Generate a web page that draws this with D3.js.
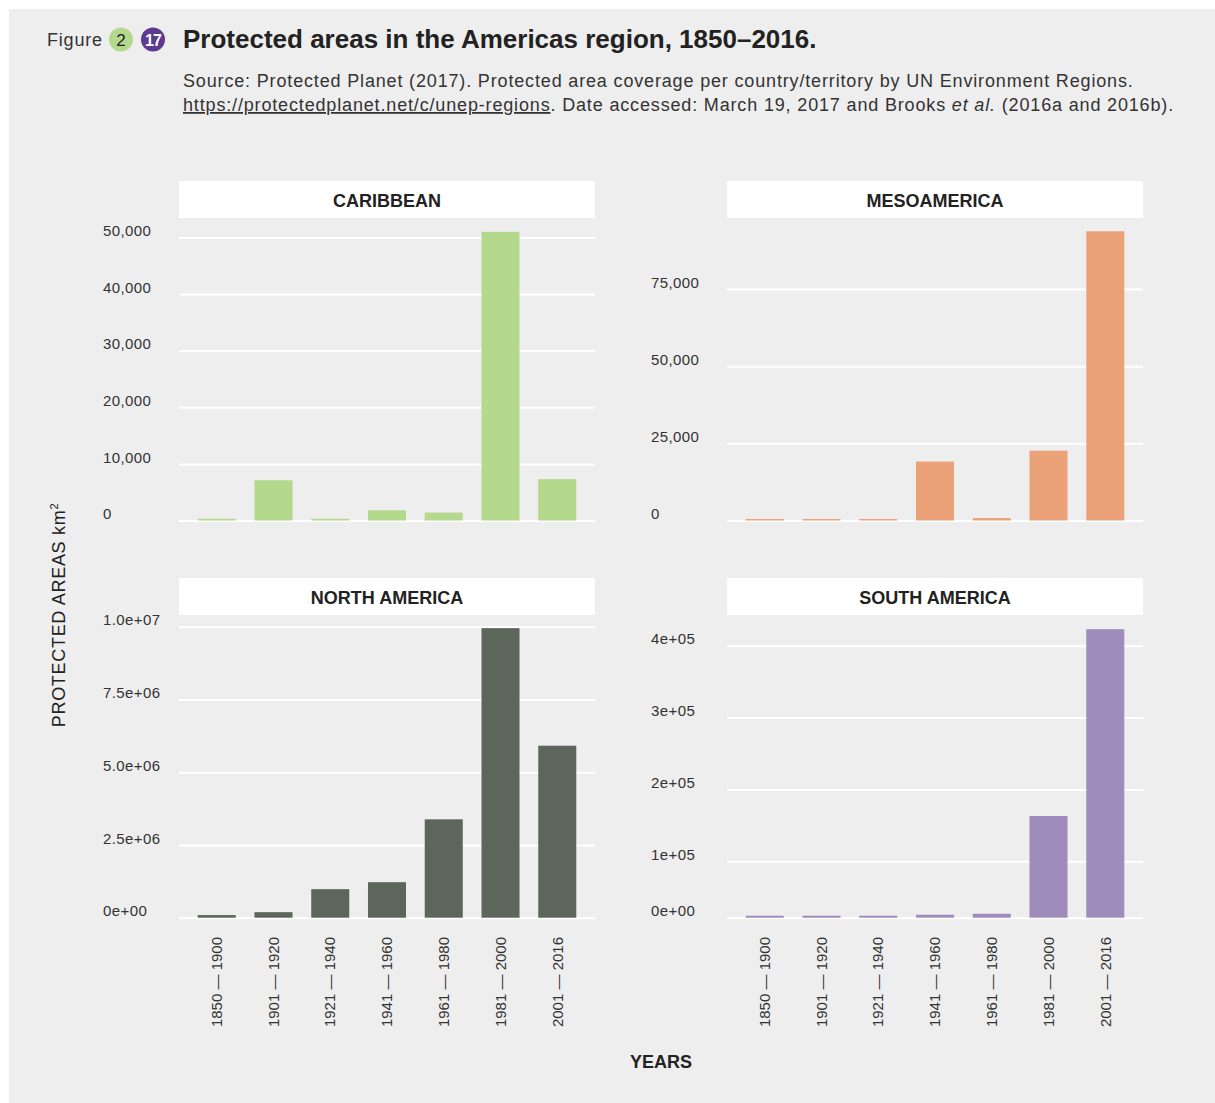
<!DOCTYPE html>
<html>
<head>
<meta charset="utf-8">
<script src="https://cdn.jsdelivr.net/npm/d3@7"></script>
<style>
  html, body { margin: 0; padding: 0; background: #ffffff; }
  svg { display: block; font-family: "Liberation Sans", Arial, Helvetica, sans-serif; }
</style>
</head>
<body>
<svg id="chart" width="1215" height="1103"></svg>
<script>
// ---------- data ----------
const periods = ["1850 — 1900", "1901 — 1920", "1921 — 1940", "1941 — 1960", "1961 — 1980", "1981 — 2000", "2001 — 2016"];

const caribbean    = [300, 7100, 300, 1800, 1400, 51000, 7300];
const mesoamerica  = [500, 500, 500, 19100, 800, 22600, 93700];
const northAmerica = [90000, 190000, 980000, 1220000, 3380000, 9950000, 5910000];
const southAmerica = [3500, 3500, 3500, 5300, 7000, 163000, 423000];

const caribbeanTicks = [0, 10000, 20000, 30000, 40000, 50000];
const caribbeanTickLabels = ["0", "10,000", "20,000", "30,000", "40,000", "50,000"];
const mesoTicks = [0, 25000, 50000, 75000];
const mesoTickLabels = ["0", "25,000", "50,000", "75,000"];
const naTicks = [0, 2500000, 5000000, 7500000, 10000000];
const naTickLabels = ["0e+00", "2.5e+06", "5.0e+06", "7.5e+06", "1.0e+07"];
const saTicks = [0, 100000, 200000, 300000, 400000];
const saTickLabels = ["0e+00", "1e+05", "2e+05", "3e+05", "4e+05"];

const panelNames = ["CARIBBEAN", "MESOAMERICA", "NORTH AMERICA", "SOUTH AMERICA"];
const panelColors = ["#b4d88c", "#eca278", "#5c665a", "#a08cbc"];

// ---------- layout ----------
const svg = d3.select("#chart");
const BG = "#eeeeee";
const TXT = "#333333";

svg.append("rect").attr("x", 9).attr("y", 9).attr("width", 1206).attr("height", 1094).attr("fill", BG);

// Header
svg.append("text").attr("x", 47).attr("y", 46).attr("font-size", 18).attr("letter-spacing", 0.8).attr("fill", TXT).text("Figure");
svg.append("circle").attr("cx", 121).attr("cy", 39.5).attr("r", 12).attr("fill", "#b4d88c");
svg.append("text").attr("x", 121).attr("y", 46).attr("font-size", 17).attr("fill", "#222").attr("text-anchor", "middle").text("2");
svg.append("circle").attr("cx", 153).attr("cy", 39.5).attr("r", 12).attr("fill", "#5b3a90");
svg.append("text").attr("x", 153).attr("y", 45.5).attr("font-size", 16).attr("fill", "#fff").attr("font-weight", "bold").attr("text-anchor", "middle").attr("letter-spacing", -1).text("17");

svg.append("text").attr("x", 183).attr("y", 48).attr("font-size", 26).attr("font-weight", "bold").attr("fill", "#222")
  .text("Protected areas in the Americas region, 1850–2016.");

svg.append("text").attr("x", 183).attr("y", 87).attr("font-size", 18).attr("letter-spacing", 0.84).attr("fill", TXT)
  .text("Source: Protected Planet (2017). Protected area coverage per country/territory by UN Environment Regions.");
const src2 = svg.append("text").attr("x", 183).attr("y", 111).attr("font-size", 18).attr("letter-spacing", 0.84).attr("fill", TXT);
src2.append("tspan").attr("text-decoration", "underline").text("https://protectedplanet.net/c/unep-regions");
src2.append("tspan").text(". Date accessed: March 19, 2017 and Brooks ");
src2.append("tspan").attr("font-style", "italic").text("et al.");
src2.append("tspan").text(" (2016a and 2016b).");

// Panels
const panels = [
  { name: panelNames[0], values: caribbean, ticks: caribbeanTicks, labels: caribbeanTickLabels, color: panelColors[0],
    x0: 179, x1: 595, stripY: 181, domain: [0, 50000], range: [520.5, 237.5] },
  { name: panelNames[1], values: mesoamerica, ticks: mesoTicks, labels: mesoTickLabels, color: panelColors[1],
    x0: 727, x1: 1143, stripY: 181, domain: [0, 75000], range: [520.5, 289] },
  { name: panelNames[2], values: northAmerica, ticks: naTicks, labels: naTickLabels, color: panelColors[2],
    x0: 179, x1: 595, stripY: 578, domain: [0, 10000000], range: [917.7, 626.7], xAxis: true },
  { name: panelNames[3], values: southAmerica, ticks: saTicks, labels: saTickLabels, color: panelColors[3],
    x0: 727, x1: 1143, stripY: 578, domain: [0, 100000, 400000], range: [917.7, 861.3, 645.7], xAxis: true }
];

panels.forEach(p => {
  const g = svg.append("g");
  const x = d3.scaleBand().domain(periods).range([p.x0, p.x1]).padding(0.33);
  const y = d3.scaleLinear().domain(p.domain).range(p.range);

  // strip
  g.append("rect").attr("x", p.x0).attr("y", p.stripY).attr("width", p.x1 - p.x0).attr("height", 37).attr("fill", "#ffffff");
  g.append("text").attr("x", (p.x0 + p.x1) / 2).attr("y", p.stripY + 25.5).attr("text-anchor", "middle")
    .attr("font-size", 18).attr("font-weight", "bold").attr("fill", "#222").text(p.name);

  // y axis + gridlines
  const yAxis = d3.axisLeft(y).tickValues(p.ticks).tickFormat((d, i) => p.labels[i])
    .tickSize(-(p.x1 - p.x0)).tickSizeOuter(0);
  const ya = g.append("g").attr("transform", `translate(${p.x0},0)`).call(yAxis);
  ya.select(".domain").remove();
  ya.selectAll(".tick line").attr("stroke", "#ffffff").attr("stroke-width", 2);
  ya.selectAll(".tick text").attr("x", -76).attr("dy", "-0.12em").attr("text-anchor", "start")
    .attr("font-size", 15).attr("letter-spacing", 0.4).attr("fill", TXT).attr("font-family", "Liberation Sans, Arial, sans-serif");

  // bars
  g.selectAll("rect.bar").data(p.values).join("rect").attr("class", "bar")
    .attr("x", (d, i) => x(periods[i]))
    .attr("width", x.bandwidth())
    .attr("y", d => y(d))
    .attr("height", d => y(0) - y(d))
    .attr("fill", p.color);

  // x axis
  if (p.xAxis) {
    const xAxis = d3.axisBottom(x).tickSize(0).tickSizeOuter(0);
    const xa = g.append("g").attr("transform", `translate(0,937)`).call(xAxis);
    xa.select(".domain").remove();
    xa.selectAll(".tick text").attr("transform", "rotate(-90)").attr("text-anchor", "end")
      .attr("x", 0).attr("y", 0).attr("dy", "0.35em")
      .attr("font-size", 15).attr("fill", TXT).attr("font-family", "Liberation Sans, Arial, sans-serif");
  }
});

// axis titles
const yt = svg.append("text").attr("transform", "translate(65,615) rotate(-90)").attr("text-anchor", "middle")
  .attr("font-size", 18).attr("letter-spacing", 0.7).attr("fill", "#222");
yt.append("tspan").text("PROTECTED AREAS km");
yt.append("tspan").attr("font-size", 11).attr("dy", -7).text("2");

svg.append("text").attr("x", 661).attr("y", 1068).attr("text-anchor", "middle").attr("font-size", 18)
  .attr("font-weight", "bold").attr("fill", "#222").text("YEARS");
</script>
</body>
</html>
